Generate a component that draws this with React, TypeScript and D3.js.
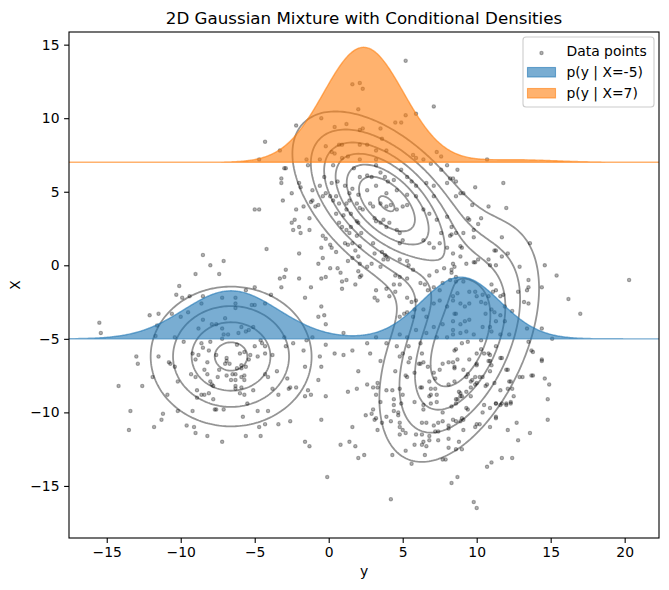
import React, { useEffect, useRef } from 'react'
import * as d3 from 'd3'

const WIDTH = 669
const HEIGHT = 590
const PLOT = { left: 69, right: 659, top: 32, bottom: 538 }
const FONT = '"DejaVu Sans", sans-serif'

// horizontal axis is labelled "y", vertical axis "X"
const Y_DOMAIN = [-17.55, 22.32]
const X_DOMAIN = [-18.54, 15.86]
const Y_TICKS = [-15, -10, -5, 0, 5, 10, 15, 20]
const X_TICKS = [-15, -10, -5, 0, 5, 10, 15]

// mixture components (y = horizontal, x = vertical)
const WEIGHTS = [0.238, 0.38, 0.364]
const MEAN_Y = [-6.6, 3.9, 8.8]
const MEAN_X = [-6.2, 4.2, -5.4]
const VAR_Y = [10.2, 10.3, 9.0]
const VAR_X = [7.8, 10.0, 20.0]
const COV_YX = [0, -5.5, 6.3]

const CONTOUR_LEVELS = [0.001, 0.002, 0.003, 0.004, 0.005, 0.006, 0.007]
const CONDITION_X = [-5, 7]
const CONDITION_COLORS = ['#1f77b4', '#ff7f0e']
const CONDITION_LABELS = ['p(y | X=-5)', 'p(y | X=7)']
const DENSITY_SCALE = 54

// scatter points: [y, X]
const POINTS: [number, number][] = [
  [-4.3,8.4],[-4.7,7.2],
  [5.2,13.9],[1.6,12.3],[2.1,12.4],[2.3,12.0],[7.1,10.8],[2.0,10.6],[-0.5,10.0],[-2.2,9.5],[-3.3,7.8],[0.4,9.4],[1.2,9.6],[2.1,9.2],[2.3,9.3],[3.5,9.3],[4.5,9.7],[4.9,9.7],[5.2,10.2],[5.9,10.3],[3.6,8.6],[0.7,8.2],[0.9,8.2],[2.1,8.2],[2.6,8.2],[-0.2,8.1],[0.2,7.7],[0.4,7.6],[3.2,7.8],[3.9,7.8],[0.9,7.3],[1.3,7.4],[2.1,7.2],[3.2,7.2],[-0.6,7.2],[-1.5,7.2],[5.7,7.5],[5.9,7.3],[7.3,7.7],[7.6,7.4],[6.4,7.2],
  [-3.0,6.6],[-2.9,6.6],[-1.4,6.8],[0.3,6.8],[1.7,6.6],[3.2,6.8],[6.9,6.9],[8.0,6.8],[-3.2,5.9],[-3.2,5.6],[-2.0,5.6],[-1.9,5.3],[-2.5,4.9],
  [-0.3,6.0],[0.2,5.6],[0.6,5.7],[1.1,5.4],[1.6,5.2],[2.1,6.0],[2.6,6.1],[2.9,6.0],[3.5,6.3],[3.8,6.0],[4.0,5.7],[4.4,5.8],[4.9,6.5],[5.3,6.0],[5.6,5.7],[5.9,5.4],[6.6,5.6],[7.1,5.4],[7.6,6.5],[8.0,5.6],[8.4,5.9],[8.6,4.7],[-1.1,5.1],[-0.6,5.4],[-0.2,4.9],[0.5,4.7],[1.4,4.9],[2.0,4.8],[2.6,5.1],[3.2,5.4],[3.9,4.9],[4.6,5.1],[5.3,4.8],[5.9,4.7],[7.1,4.7],
  [8.7,6.5],[8.2,5.9],[8.6,5.7],[9.9,5.3],[11.8,5.6],[8.9,4.9],[9.1,4.9],[10.8,4.0],[12.0,3.9],[9.7,4.1],[9.4,3.2],[9.5,3.1],[10.3,3.2],[10.1,2.8],[9.8,2.4],[9.1,2.2],[11.7,1.9],[13.6,1.5],[9.8,1.9],[8.3,2.1],[8.9,1.3],[9.0,1.2],[11.2,1.0],[11.3,1.0],[11.7,0.6],[12.1,0.8],[10.8,0.4],[10.1,0.4],[9.8,0.2],[9.9,0.2],[9.3,0.1],[10.9,0.0],[11.3,0.0],[12.9,-0.1],[14.6,0.0],[10.7,7.2],[8.4,0.1],[8.5,-0.1],
  [15.4,-0.7],[20.3,-1.0],[16.2,-2.3],[17.0,-3.3],[13.5,-1.0],[13.5,-1.5],[13.4,-1.7],[12.8,-1.8],[13.5,-2.6],[13.2,-2.5],[14.4,-1.5],[12.4,-3.1],[11.9,-2.8],[11.8,-2.0],[11.6,-2.1],[11.3,-1.7],[11.0,-1.3],[13.4,-4.3],[14.4,-4.3],[15.1,-5.0],[13.5,-5.2],[14.4,-6.4],[13.8,-5.9],[11.6,-6.3],[10.9,-6.1],[10.9,-6.5],[11.3,-5.5],[12.1,-7.1],[13.8,-7.5],[13.1,-7.6],[14.6,-7.7],[14.9,-8.1],[12.2,-7.9],[12.1,-8.4],[12.5,-8.9],[14.8,-9.1],[12.3,-9.3],[12.0,-9.5],[11.6,-9.5],[12.7,-10.7],[14.8,-10.5],[11.3,-10.3],[10.9,-9.7],[11.3,-9.4],[10.4,-10.0],[10.5,-9.5],[10.6,-8.2],[10.0,-8.0],[9.9,-7.6],[9.6,-7.9],[10.0,-6.7],[9.3,-7.6],[9.5,-6.4],[10.0,-6.8],[9.1,-7.1],[8.5,-7.0],[8.7,-6.4],[10.3,-5.7],[10.0,-6.0],[10.3,-5.1],[9.4,-5.2],[9.0,-5.3],[8.6,-5.7],[8.5,-5.8],[11.6,-8.5],[8.9,-8.9],[9.6,-8.3],[9.3,-9.7],[9.4,-9.8],[8.9,-8.7],[8.6,-9.1],[8.3,-9.6],[8.6,-9.4],[9.0,-10.4],[9.1,-10.5],[10.0,-10.8],[10.2,-10.8],[8.4,-10.5],
  [8.3,-0.3],[8.6,-1.1],[8.7,-1.9],[8.4,-2.4],[8.9,-2.6],[9.2,-2.8],[9.5,-2.6],[9.9,-1.8],[10.0,-2.1],[10.4,-2.0],[10.3,-2.5],[10.6,-2.6],[10.8,-2.1],[11.1,-1.8],[11.0,-3.0],[10.6,-3.3],[11.2,-3.2],[11.6,-3.4],[11.3,-3.8],[11.9,-3.8],[10.9,-4.2],[10.4,-4.2],[9.5,-3.7],[9.2,-3.8],[8.9,-4.0],[8.4,-3.8],[8.5,-3.3],[9.3,-4.5],[8.9,-4.6],[8.4,-4.7],[9.8,-4.7],[11.0,-4.5],[11.6,-4.7],[12.2,-4.7],[9.5,-1.8],[9.1,-1.1],
  [-5.0,3.8],[-4.7,3.8],[-4.2,1.1],[-8.5,0.7],[-7.1,0.3],[-8.0,0.0],[-9.0,-0.6],[-7.4,-0.6],[-10.1,-1.4],[-10.3,-2.0],[-9.9,-2.2],[-9.4,-2.1],[-8.5,-2.1],[-7.2,-2.2],[-6.3,-2.2],[-5.6,-1.7],[-5.0,-1.5],[-12.1,-3.4],[-11.5,-3.3],[-10.6,-3.3],[-10.0,-3.5],[-9.5,-3.2],[-8.6,-2.6],[-8.5,-3.7],[-7.9,-4.0],[-7.6,-4.0],[-7.0,-3.6],[-6.3,-2.6],[-6.3,-2.9],[-5.9,-4.2],[-5.6,-4.5],[-5.4,-4.4],[-5.2,-2.7],[-5.0,-2.7],[-4.3,-2.6],[-8.8,-4.3],[-11.6,-4.1],[-11.7,-4.8],[-15.5,-3.9],[-15.4,-4.6],[-9.8,-5.2],[-10.4,-4.9],[-7.1,-4.7],[-6.8,-4.7],[-6.1,-4.6],[-7.2,-5.0],[-8.0,-5.2],[-8.6,-5.3],[-8.5,-5.6],[-9.2,-6.0],[-8.8,-6.1],[-8.1,-5.8],[-6.9,-6.3],[-6.7,-6.7],[-7.0,-6.7],[-6.0,-6.0],[-5.7,-5.9],[-5.4,-6.4],[-5.6,-6.9],[-4.8,-6.2],[-4.3,-6.0],[-5.0,-5.5],[-4.3,-5.5],[-6.2,-7.0],[-5.9,-7.0],[-9.0,-6.4],[-8.2,-6.6],[-10.8,-6.6],[-10.7,-6.7],[-10.4,-6.9],[-11.5,-6.2],[-13.0,-6.2],[-12.9,-6.7],[-7.2,-4.3],[-5.1,-4.2],[-4.6,-5.1],[-4.5,-5.3],
  [-7.6,-6.1],[-6.9,-6.5],[-6.2,-5.4],[-5.7,-7.5],[-8.4,-7.1],[-7.4,-7.1],[-5.3,-6.1],[-6.6,-7.8],[-7.9,-8.1],[-5.9,-6.8],
  [-14.2,-8.2],[-12.6,-8.2],[-13.4,-9.9],[-13.5,-11.2],[-11.2,-10.1],[-11.3,-10.5],[-11.8,-11.0],[-11.9,-7.6],[-10.9,-8.8],[-10.2,-7.9],[-10.2,-9.9],[-9.6,-10.9],[-9.2,-9.9],[-9.1,-11.0],[-9.0,-11.4],[-9.3,-7.4],[-9.0,-7.6],[-8.9,-8.5],[-8.9,-9.0],[-8.6,-8.8],[-8.4,-8.8],[-8.2,-7.4],[-8.2,-11.6],[-8.1,-8.7],[-8.0,-7.9],[-7.8,-8.2],[-7.8,-9.1],[-7.7,-9.8],[-7.6,-9.8],[-7.1,-9.8],[-7.2,-12.0],[-7.5,-7.6],[-6.9,-7.5],[-6.5,-7.4],[-6.3,-7.4],[-6.3,-8.2],[-6.3,-8.4],[-5.9,-8.3],[-5.7,-8.8],[-6.0,-8.7],[-6.3,-7.8],[-5.9,-7.6],[-5.7,-7.8],[-5.5,-9.4],[-5.8,-10.3],[-5.6,-11.6],[-4.6,-11.6],[-5.1,-8.5],[-4.8,-9.9],[-4.1,-9.9],[-4.7,-11.0],[-4.3,-10.8],[-4.3,-7.4],[-4.1,-7.6],[-3.8,-8.4],[-3.5,-7.2],[-3.4,-8.8],[-3.4,-10.8],[-2.6,-10.6],[-2.8,-7.7],[-2.7,-8.4],[-2.6,-8.3],[-2.2,-8.3],[-1.6,-8.9],[-1.2,-8.8],[-1.4,-8.5],[-1.6,-12.0],[-1.3,-12.3],[-0.7,-7.8],
  [0.4,-6.0],[2.8,-6.0],[-1.6,-6.9],[-0.5,-6.9],[-0.2,-8.9],[-0.5,-10.5],[-0.1,-14.4],[0.8,-12.2],[1.4,-12.0],[1.8,-12.3],[2.0,-13.1],[2.4,-12.9],[1.3,-8.6],[1.9,-8.4],[1.6,-11.0],[2.5,-10.2],[2.6,-8.1],[2.0,-7.2],[3.5,-6.5],[3.3,-8.0],[3.0,-8.3],[3.3,-8.3],[3.2,-8.8],[3.5,-9.3],[3.3,-11.2],[3.1,-10.5],[3.6,-10.7],[3.9,-10.3],[4.2,-10.6],[4.4,-9.9],[4.7,-10.2],[4.8,-10.7],[4.8,-11.0],[4.8,-11.5],[4.3,-12.9],[5.2,-12.6],[5.6,-13.5],[6.5,-12.9],[7.7,-13.2],[8.3,-14.8],[8.7,-14.4],[4.2,-15.9],[9.8,-16.1],[10.0,-16.5],[10.7,-13.7],[11.0,-13.4],[11.7,-13.1],[12.4,-13.1],[12.8,-11.9],[13.6,-11.4],[12.1,-11.2],[10.9,-11.0],[11.3,-10.4],[9.9,-11.0],[9.1,-11.2],[9.0,-12.5],[8.6,-12.5],[8.1,-12.4],[8.8,-12.0],[8.1,-11.8],[7.4,-11.9],[6.8,-11.9],[6.4,-12.0],[6.3,-12.2],[5.8,-12.2],[6.6,-12.3],[5.9,-11.5],[6.8,-11.6],[7.4,-11.3],[7.2,-11.3],[8.1,-11.1],[6.3,-10.7],[6.6,-10.7],[7.1,-10.9],[7.7,-10.6],[8.1,-10.9],[8.6,-10.6],[8.9,-10.6],[9.3,-8.6],[8.8,-8.6],[9.6,-8.9],[9.7,-7.8],[9.9,-8.1],[10.2,-7.6],[9.4,-7.4],[8.5,-7.9],[8.1,-8.1],[8.1,-6.6],[8.4,-6.6],[8.5,-6.9],[7.5,-7.1],[7.7,-6.7],[7.1,-7.3],[7.2,-7.7],[6.8,-7.9],[6.9,-8.4],[7.2,-8.4],[6.9,-8.8],[6.2,-8.3],[6.3,-8.3],[6.8,-8.9],[7.3,-8.8],[7.3,-9.3],[6.9,-9.4],[6.4,-9.5],[6.4,-9.8],[7.7,-10.0],[8.7,-9.1],[9.0,-8.9],[5.8,-9.3],[5.4,-6.6],[5.5,-6.3],[4.8,-6.2],[5.0,-6.0],[5.2,-7.5],[5.3,-7.6],[4.5,-7.2],[5.8,-7.3],[6.1,-6.7],[6.2,-6.7],[6.3,-6.0],[6.4,-6.6],[6.7,-6.9],[4.3,-8.5],[4.4,-9.1],[4.4,-9.5],[4.9,-9.4],[3.9,-8.5],[4.8,-8.4],[5.0,-8.8],[4.7,-10.0],[3.2,-10.4],[5.0,-11.2],[5.2,-11.4],[6.3,-11.5],[7.4,-10.7],[3.0,-9.8],[2.9,-10.1],[10.5,-6.0],[10.8,-6.0],[10.8,-6.5],[11.0,-6.8],[10.9,-7.2],[10.4,-7.6],[10.7,-8.1],[11.2,-8.0],[11.7,-6.3],[12.0,-7.1],[12.3,-7.9],[12.4,-8.4],[12.0,-9.4],[12.3,-9.4],[11.7,-9.4],[11.3,-9.4],[12.9,-7.6],[13.7,-7.5],[14.4,-6.5],[13.7,-5.8],[7.9,-13.2],
  [-3.1,4.4],[-3.9,-2.0],[-2.0,-0.9],[-1.2,-1.5],[-1.6,-2.2],[-0.5,-2.8],[-0.7,-3.5],[-0.3,-3.4],[-2.0,0.8],[-2.9,-0.3],[-3.0,-0.8],[-3.3,-0.9],[-3.2,-1.5],[-2.0,2.6],[-1.9,2.2],[-2.5,2.9],[-2.4,2.4],[-2.2,3.8],[-2.3,3.1],[-1.7,4.0],[-1.3,3.2],[-1.3,2.4],[-0.9,4.0],[-0.7,4.1],[-1.1,4.4],[-1.2,4.3],[-0.4,4.7],[0.1,4.7],[-0.4,2.0],[-0.2,1.8],[-0.5,1.2],[-0.4,0.5],[-0.7,0.1],[0.1,1.4],[0.2,1.2],[0.5,0.9],[0.1,-0.2],[0.6,-0.2],[0.8,-0.5],[0.9,-1.1],[1.2,-1.0],[-0.5,-0.9],[-0.2,-0.8],[0.9,-1.6],[1.8,-1.3],[2.0,-0.4],[2.1,-0.8],[2.2,-0.7],[2.1,0.1],[2.6,-0.1],[2.0,0.6],[1.6,0.5],[1.3,0.3],[1.8,1.0],[1.6,1.5],[2.1,1.3],[1.3,1.4],[1.1,1.5],[1.4,2.2],[1.9,2.0],[2.2,2.2],[0.9,2.6],[1.2,2.4],[1.5,2.6],[1.9,3.0],[2.0,2.9],[0.5,3.5],[1.0,3.4],[0.7,2.9],[1.2,3.8],[1.5,3.5],[0.3,4.4],[0.7,4.2],[1.2,4.2],[1.4,4.4],[1.9,4.2],[2.1,3.9],[2.3,3.8],[2.8,4.2],[3.0,4.0],[3.5,4.2],[3.9,4.0],[4.2,4.1],[4.6,3.8],[5.0,4.0],[5.3,4.1],[3.1,3.2],[3.2,3.0],[3.5,2.9],[3.7,3.1],[3.9,2.6],[4.1,2.9],[4.6,2.4],[4.8,2.2],[5.0,1.7],[4.8,1.5],[3.6,0.9],[3.8,0.7],[3.9,0.6],[3.7,0.4],[4.0,0.4],[3.0,1.5],[3.1,0.8],[2.9,0.1],[3.5,-0.1],[4.8,0.4],[5.3,0.3],[5.4,0.0],[5.7,-0.3],[4.5,-0.7],[4.8,-0.8],[5.3,-0.9],[4.8,-1.3],[4.4,-1.3],[3.9,-1.6],[4.1,-2.1],[4.5,-1.8],[3.2,-1.7],[3.1,-2.2],[3.3,-2.4],[5.3,-2.2],[5.6,-2.5],[5.9,-2.4],[5.8,-3.0],[5.3,-3.2],[4.8,-3.5],[6.2,-1.2],[6.5,-1.3],[6.7,-1.7],[7.1,-1.5],[7.5,-1.7],[7.7,-1.2],[8.2,-1.0],[8.6,-0.8],[8.3,-0.5],[7.8,-0.2],[7.3,-0.4],[6.8,-0.7],[6.4,1.7],[6.8,1.5],[7.1,1.2],[7.5,1.5],[8.0,1.2],[8.4,0.8],[8.9,0.6],[6.4,3.8],[6.8,3.5],[7.3,3.1],[8.0,3.3],[8.3,2.6],[8.6,2.2],[8.2,2.0],[7.6,2.2],
  [5.1,-3.3],[5.7,-3.5],[6.4,-3.0],[6.6,-3.5],[7.1,-2.6],[7.5,-2.4],[8.0,-2.8],[8.4,-2.1],[8.6,-3.3],[7.7,-4.0],[7.1,-4.2],[6.6,-4.6],[5.9,-4.4],[5.3,-4.9],[4.8,-4.7],[8.4,-4.4],[8.0,-4.9],[7.3,-4.9],[6.2,-5.3],[5.4,-5.5],[4.6,-5.5],[3.9,-5.3],[3.2,-4.9],[2.6,-5.3],[1.6,-5.8],[1.0,-6.1],[-0.2,-5.4],[-1.1,-4.9],[-1.5,-5.1],[-2.4,-5.3],[-2.9,-5.5],[-3.8,-6.1],[-3.0,-4.9],[-1.7,-5.8],[-0.6,-6.2],[1.0,-4.6],[-0.2,-4.0],
]

function componentDensity(k: number, yv: number, xv: number) {
  const a = VAR_Y[k], b = COV_YX[k], c = VAR_X[k]
  const det = a * c - b * b
  const dy = yv - MEAN_Y[k], dx = xv - MEAN_X[k]
  const q = (c * dy * dy - 2 * b * dy * dx + a * dx * dx) / det
  return WEIGHTS[k] * Math.exp(-0.5 * q) / (2 * Math.PI * Math.sqrt(det))
}

function density(yv: number, xv: number) {
  let s = 0
  for (let k = 0; k < WEIGHTS.length; k++) s += componentDensity(k, yv, xv)
  return s
}

function marginalX(xv: number) {
  let s = 0
  for (let k = 0; k < WEIGHTS.length; k++) {
    const d = xv - MEAN_X[k]
    s += WEIGHTS[k] * Math.exp(-0.5 * d * d / VAR_X[k]) / Math.sqrt(2 * Math.PI * VAR_X[k])
  }
  return s
}

export default function App() {
  const ref = useRef<SVGSVGElement>(null)

  useEffect(() => {
    const svg = d3.select(ref.current)
    svg.selectAll('*').remove()

    const x = d3.scaleLinear().domain(Y_DOMAIN).range([PLOT.left, PLOT.right])
    const y = d3.scaleLinear().domain(X_DOMAIN).range([PLOT.bottom, PLOT.top])

    svg.append('defs').append('clipPath').attr('id', 'plot-clip')
      .append('rect')
        .attr('x', PLOT.left).attr('y', PLOT.top)
        .attr('width', PLOT.right - PLOT.left).attr('height', PLOT.bottom - PLOT.top)

    const plot = svg.append('g').attr('clip-path', 'url(#plot-clip)')

    // scatter
    plot.append('g')
      .selectAll('circle')
      .data(POINTS)
      .join('circle')
        .attr('cx', d => x(d[0]))
        .attr('cy', d => y(d[1]))
        .attr('r', 1.7)
        .attr('fill', '#000').attr('fill-opacity', 0.3)
        .attr('stroke', '#000').attr('stroke-opacity', 0.3).attr('stroke-width', 1.1)

    // contours of the mixture density
    const NX = 260, NY = 230
    const dh = (Y_DOMAIN[1] - Y_DOMAIN[0]) / (NX - 1)
    const dv = (X_DOMAIN[1] - X_DOMAIN[0]) / (NY - 1)
    const values = new Array(NX * NY)
    for (let j = 0; j < NY; j++) {
      const xv = X_DOMAIN[1] - j * dv
      for (let i = 0; i < NX; i++) values[j * NX + i] = density(Y_DOMAIN[0] + i * dh, xv)
    }
    const contours = d3.contours().size([NX, NY]).thresholds(CONTOUR_LEVELS)(values)
    const proj = d3.geoTransform({
      point(px: number, py: number) {
        this.stream.point(x(Y_DOMAIN[0] + (px - 0.5) * dh), y(X_DOMAIN[1] - (py - 0.5) * dv))
      }
    })
    plot.append('g')
      .selectAll('path')
      .data(contours)
      .join('path')
        .attr('d', d3.geoPath(proj))
        .attr('fill', 'none')
        .attr('stroke', '#000')
        .attr('stroke-opacity', 0.42)
        .attr('stroke-width', 1.8)

    // conditional densities
    const grid = d3.range(600).map(i => Y_DOMAIN[0] + i * (Y_DOMAIN[1] - Y_DOMAIN[0]) / 599)
    CONDITION_X.forEach((xc, idx) => {
      const m = marginalX(xc)
      const area = d3.area<number>()
        .x(h => x(h))
        .y0(y(xc))
        .y1(h => y(xc + DENSITY_SCALE * density(h, xc) / m))
      plot.append('path')
        .datum(grid)
        .attr('d', area)
        .attr('fill', CONDITION_COLORS[idx]).attr('fill-opacity', 0.6)
        .attr('stroke', CONDITION_COLORS[idx]).attr('stroke-opacity', 0.6).attr('stroke-width', 1.4)
    })

    // axes
    const xAxis = svg.append('g')
      .attr('transform', `translate(0, ${PLOT.bottom})`)
      .call(d3.axisBottom(x).tickValues(Y_TICKS).tickFormat(d3.format('d')).tickSize(4.9).tickPadding(4.6).tickSizeOuter(0))
    const yAxis = svg.append('g')
      .attr('transform', `translate(${PLOT.left}, 0)`)
      .call(d3.axisLeft(y).tickValues(X_TICKS).tickFormat(d3.format('d')).tickSize(4.9).tickPadding(4.6).tickSizeOuter(0))
    ;[xAxis, yAxis].forEach(a => {
      a.select('.domain').remove()
      a.attr('font-size', 13.9).attr('font-family', FONT)
      a.selectAll('line').attr('stroke', '#000').attr('stroke-width', 1.1)
      a.selectAll('text').attr('fill', '#000')
    })

    svg.append('rect')
      .attr('x', PLOT.left).attr('y', PLOT.top)
      .attr('width', PLOT.right - PLOT.left).attr('height', PLOT.bottom - PLOT.top)
      .attr('fill', 'none').attr('stroke', '#000').attr('stroke-width', 1.1)

    svg.append('text')
      .attr('x', (PLOT.left + PLOT.right) / 2).attr('y', 23.5)
      .attr('text-anchor', 'middle')
      .attr('font-family', FONT).attr('font-size', 16.7)
      .text('2D Gaussian Mixture with Conditional Densities')

    svg.append('text')
      .attr('x', (PLOT.left + PLOT.right) / 2).attr('y', 576)
      .attr('text-anchor', 'middle')
      .attr('font-family', FONT).attr('font-size', 13.9)
      .text('y')

    svg.append('text')
      .attr('transform', `translate(20, ${(PLOT.top + PLOT.bottom) / 2}) rotate(-90)`)
      .attr('text-anchor', 'middle')
      .attr('font-family', FONT).attr('font-size', 13.9)
      .text('X')

    // legend
    const legend = svg.append('g')
    legend.append('rect')
      .attr('x', 523).attr('y', 37).attr('width', 131).attr('height', 70).attr('rx', 3)
      .attr('fill', '#fff').attr('fill-opacity', 0.8)
      .attr('stroke', '#ccc').attr('stroke-width', 1.1)
    legend.append('circle')
      .attr('cx', 541.5).attr('cy', 53).attr('r', 1.7)
      .attr('fill', '#000').attr('fill-opacity', 0.3)
      .attr('stroke', '#000').attr('stroke-opacity', 0.3).attr('stroke-width', 1.1)
    legend.append('text')
      .attr('x', 566.5).attr('y', 55.5)
      .attr('font-family', FONT).attr('font-size', 13.9)
      .text('Data points')
    CONDITION_LABELS.forEach((label, idx) => {
      const top = 67.5 + idx * 21
      legend.append('rect')
        .attr('x', 527.5).attr('y', top).attr('width', 28).attr('height', 9.5)
        .attr('fill', CONDITION_COLORS[idx]).attr('fill-opacity', 0.6)
        .attr('stroke', CONDITION_COLORS[idx]).attr('stroke-opacity', 0.6).attr('stroke-width', 1.1)
      legend.append('text')
        .attr('x', 566.5).attr('y', top + 9.5)
        .attr('font-family', FONT).attr('font-size', 13.9)
        .text(label)
    })
  }, [])

  return (
    <svg
      ref={ref}
      width={WIDTH}
      height={HEIGHT}
      style={{ position: 'absolute', left: 0, top: 0, background: '#fff' }}
    />
  )
}
